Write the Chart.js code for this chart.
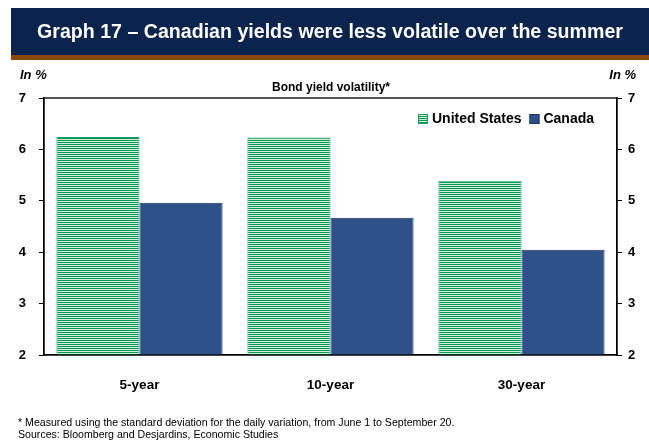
<!DOCTYPE html>
<html lang="en">
<head>
<meta charset="UTF-8">
<title>Graph 17</title>
<script src="https://cdn.jsdelivr.net/npm/chart.js@4.4.0/dist/chart.umd.min.js"></script>
<style>
  html, body { margin: 0; padding: 0; background: #fff; }
  #wrap { width: 649px; height: 440px; position: relative; }
</style>
</head>
<body>
<div id="wrap"><canvas id="graph"></canvas></div>
<script>
const categories = ['5-year', '10-year', '30-year'];
const usValues = [6.24, 6.23, 5.39];
const canadaValues = [4.96, 4.67, 4.05];
const yTicks = [2, 3, 4, 5, 6, 7];

const FONT = 'Arial, "Liberation Sans", sans-serif';
const NAVY = '#0b244d';
const BROWN = '#8a4a0c';
const CANADA_FILL = '#2e5189';
const CANADA_EDGE = '#1d355f';
const GREEN_EDGE = '#18a062';

// horizontal pinstripe fill for the US bars
function stripes() {
  const c = document.createElement('canvas');
  c.width = 4; c.height = 2;
  const g = c.getContext('2d');
  g.fillStyle = '#0f9655'; g.fillRect(0, 0, 4, 1);
  g.fillStyle = '#c9f0d8'; g.fillRect(0, 1, 4, 1);
  return g.createPattern(c, 'repeat');
}
const usFill = stripes();

const decor = {
  id: 'decor',
  beforeDraw(chart) {
    const ctx = chart.ctx;
    ctx.save();
    ctx.fillStyle = '#fff';
    ctx.fillRect(0, 0, chart.width, chart.height);
    // header band
    ctx.fillStyle = NAVY;
    ctx.fillRect(11, 8, 638, 47);
    ctx.fillStyle = BROWN;
    ctx.fillRect(11, 55, 638, 5);
    ctx.fillStyle = '#fff';
    ctx.font = 'bold 19.6px ' + FONT;
    ctx.textAlign = 'center';
    ctx.textBaseline = 'middle';
    ctx.fillText('Graph 17 \u2013 Canadian yields were less volatile over the summer', 330, 33);

    ctx.fillStyle = '#000';
    ctx.font = 'italic bold 13px ' + FONT;
    ctx.textAlign = 'left';
    ctx.fillText('In %', 20, 75);
    ctx.textAlign = 'right';
    ctx.fillText('In %', 636, 75);

    ctx.font = 'bold 12px ' + FONT;
    ctx.textAlign = 'center';
    ctx.fillText('Bond yield volatility*', 331, 88);

    ctx.font = '10.6px ' + FONT;
    ctx.textAlign = 'left';
    ctx.fillText('* Measured using the standard deviation for the daily variation, from June 1 to September 20.', 18, 423);
    ctx.fillText('Sources: Bloomberg and Desjardins, Economic Studies', 18, 435);
    ctx.restore();
  },
  afterDraw(chart) {
    const ctx = chart.ctx;
    const a = chart.chartArea;
    ctx.save();
    ctx.strokeStyle = '#000';
    ctx.lineWidth = 1.3;
    ctx.strokeRect(a.left, a.top, a.right - a.left, a.bottom - a.top);

    // legend, top right inside the plot
    ctx.font = 'bold 14px ' + FONT;
    ctx.textBaseline = 'middle';
    ctx.textAlign = 'left';
    const ds = chart.data.datasets;
    let x = 418;
    const y = 119;
    ds.forEach((d) => {
      ctx.fillStyle = d.backgroundColor;
      ctx.fillRect(x, y - 5, 10, 10);
      ctx.strokeStyle = d.borderColor;
      ctx.lineWidth = 1;
      ctx.strokeRect(x + 0.5, y - 4.5, 9, 9);
      ctx.fillStyle = '#000';
      ctx.fillText(d.label, x + 14, y);
      x += 14 + ctx.measureText(d.label).width + 8;
    });
    ctx.restore();
  }
};

const tickFont = { family: FONT, size: 13, weight: 'bold' };

new Chart(document.getElementById('graph'), {
  type: 'bar',
  data: {
    labels: categories,
    datasets: [
      {
        label: 'United States',
        data: usValues,
        backgroundColor: usFill,
        borderColor: GREEN_EDGE,
        borderWidth: 1
      },
      {
        label: 'Canada',
        data: canadaValues,
        backgroundColor: CANADA_FILL,
        borderColor: CANADA_EDGE,
        borderWidth: 1
      }
    ]
  },
  options: {
    responsive: true,
    maintainAspectRatio: false,
    animation: false,
    layout: { padding: { top: 98, left: 0, right: 0, bottom: 0 } },
    plugins: { legend: { display: false }, tooltip: { enabled: false } },
    datasets: { bar: { categoryPercentage: 0.87, barPercentage: 1.0 } },
    scales: {
      x: {
        grid: { display: false },
        border: { color: '#000', width: 1.3 },
        ticks: { color: '#000', font: { family: FONT, size: 13.5, weight: 'bold' }, padding: 14 },
        afterFit(s) { s.height = 85; }
      },
      y: {
        position: 'left',
        min: 2, max: 7,
        afterBuildTicks(s) { s.ticks = yTicks.map(v => ({ value: v })); },
        grid: { drawOnChartArea: false, tickLength: 5, color: '#000', lineWidth: 1 },
        border: { color: '#000', width: 1.3 },
        ticks: { color: '#000', font: tickFont, padding: 13 },
        afterFit(s) { s.width = 44; }
      },
      y2: {
        position: 'right',
        min: 2, max: 7,
        afterBuildTicks(s) { s.ticks = yTicks.map(v => ({ value: v })); },
        grid: { drawOnChartArea: false, tickLength: 5, color: '#000', lineWidth: 1 },
        border: { color: '#000', width: 1.3 },
        ticks: { color: '#000', font: tickFont, padding: 6 },
        afterFit(s) { s.width = 32; }
      }
    }
  },
  plugins: [decor]
});
</script>
</body>
</html>
